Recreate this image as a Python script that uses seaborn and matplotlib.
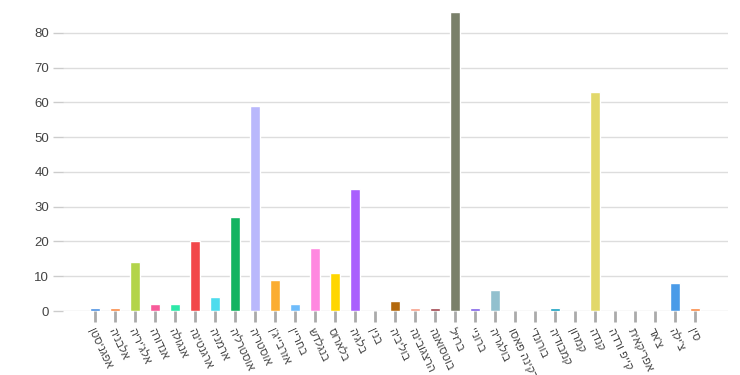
import matplotlib
matplotlib.use("Agg")
import matplotlib.pyplot as plt
import seaborn as sns
import pandas as pd

countries = ["אפגניסטן", "אלבניה", "אלג'יריה", "אנדורה", "אנגולה", "ארגנטינה",
             "ארמניה", "אוסטרליה", "אוסטריה", "אזרבייג'ן", "בחריין", "בנגלדש",
             "בלארוס", "בלגיה", "בנין", "בוליביה", "הרצגובינה", "בוטסואנה",
             "ברזיל", "ברוניי", "בולגריה", "בורקינה פאסו", "בורונדי", "קמבודיה",
             "קמרון", "קנדה", "קייפ ורדה", "אפריקאית", "צ'אד", "צ'ילה", "סין"]
values = [1, 1, 14, 2, 2, 20, 4, 27, 59, 9, 2, 18, 11, 35, 0, 3, 1, 1,
          86, 1, 6, 0, 0, 1, 0, 63, 0, 0, 0, 8, 1]
colors = ["#4a90e2", "#f98a45", "#b3d44a", "#f75b9a", "#2de8a8", "#f2474a",
          "#4edced", "#14b361", "#b9b8fc", "#fbad31", "#6fbcfb", "#ff88e0",
          "#ffd600", "#a95ffd", "#999999", "#b3690e", "#f7a08a", "#a0434c",
          "#7a806a", "#8060e8", "#92c0ce", "#999999", "#999999", "#14a0c0",
          "#999999", "#e2d86a", "#999999", "#999999", "#999999", "#4a9be8",
          "#f98a45"]
yticks = [0, 10, 20, 30, 40, 50, 60, 70, 80]

df = pd.DataFrame({"country": countries, "value": values})

sns.set_style("white")
plt.rcParams["font.family"] = ["Liberation Sans", "DejaVu Sans"]

fig = plt.figure(figsize=(7.4, 3.75), dpi=100)
ax = fig.add_axes([63 / 740, 1 - 311 / 375, (728 - 63) / 740, (311 - 10) / 375])

sns.barplot(data=df, x="country", y="value", hue="country", palette=colors,
            legend=False, width=0.5, ax=ax, saturation=1, zorder=3)

ax.set_xlim(-1.6, 31.65)
ax.set_ylim(0, 86.6)
ax.set_yticks(yticks)
ax.set_yticklabels([str(t) for t in yticks], color="#444444", fontsize=9.5)
ax.yaxis.grid(True, color="#dddddd", linewidth=1, zorder=0)
ax.tick_params(axis="y", length=7, width=1, color="#cccccc", pad=3, left=True)
ax.set_xticks(range(len(countries)))
ax.set_xticklabels([c[::-1] for c in countries], rotation=-65, ha="left",
                   va="top", rotation_mode="anchor", color="#444444", fontsize=8)
ax.tick_params(axis="x", length=8, width=2, color="#aaaaaa", pad=3, bottom=True,
               direction="out")
for s in ax.spines.values():
    s.set_visible(False)
ax.set_xlabel("")
ax.set_ylabel("")

fig.savefig("out.png", dpi=100)
